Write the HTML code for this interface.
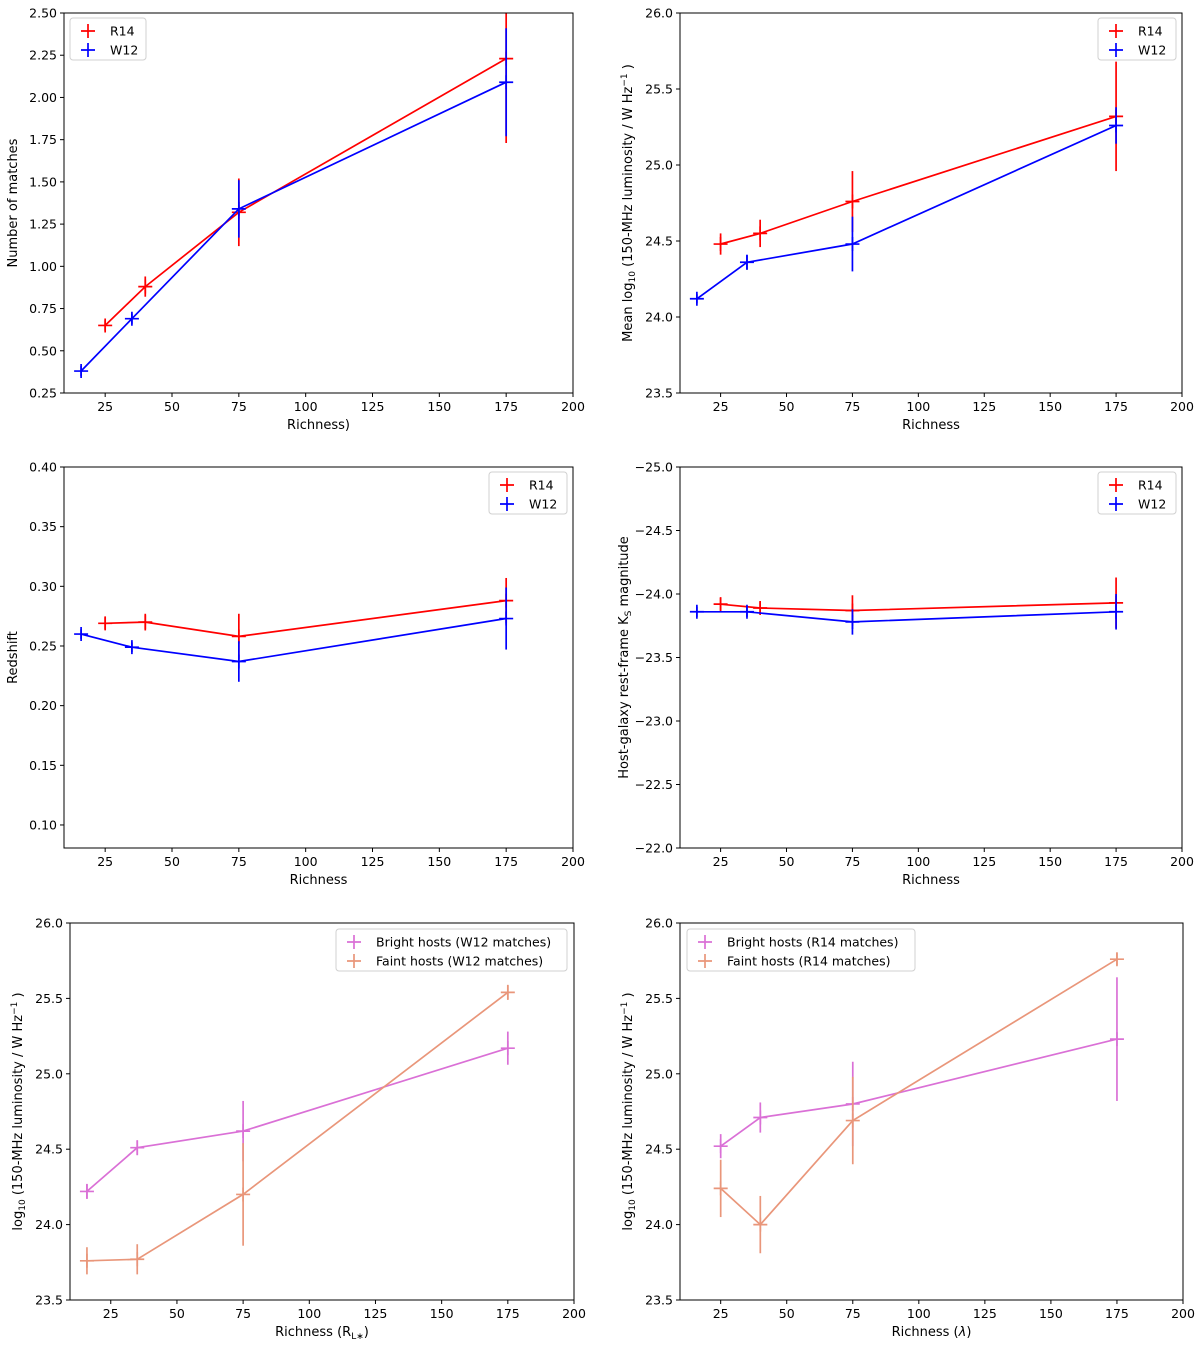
<!DOCTYPE html>
<html><head><meta charset="utf-8"><style>
body{margin:0;background:#fff;}
svg{display:block;font-family:"DejaVu Sans","Liberation Sans",sans-serif;}
</style></head>
<body>
<svg id="fig" width="1200" height="1347" viewBox="0 0 1200 1347" xmlns="http://www.w3.org/2000/svg"></svg>
<script>
// ---- Data ----
const xR14 = [25, 40, 75, 175];
const xW12 = [16, 35, 75, 175];
const p1R14 = [0.65, 0.88, 1.32, 2.23];
const p1R14Err = [0.03, 0.06, 0.2, 0.5];
const p1W12 = [0.38, 0.69, 1.34, 2.09];
const p1W12Err = [0.03, 0.03, 0.17, 0.32];
const p2R14 = [24.48, 24.55, 24.76, 25.32];
const p2R14Err = [0.07, 0.09, 0.2, 0.36];
const p2W12 = [24.12, 24.36, 24.48, 25.26];
const p2W12Err = [0.03, 0.05, 0.18, 0.12];
const p3R14 = [0.269, 0.270, 0.258, 0.288];
const p3R14Err = [0.005, 0.007, 0.019, 0.019];
const p3W12 = [0.260, 0.249, 0.237, 0.273];
const p3W12Err = [0.004, 0.004, 0.017, 0.026];
const p4R14 = [-23.92, -23.89, -23.87, -23.93];
const p4R14Err = [0.05, 0.05, 0.12, 0.2];
const p4W12 = [-23.86, -23.86, -23.78, -23.86];
const p4W12Err = [0.04, 0.04, 0.1, 0.14];
const p5Bright = [24.22, 24.51, 24.62, 25.17];
const p5BrightErr = [0.05, 0.05, 0.2, 0.11];
const p5Faint = [23.76, 23.77, 24.2, 25.54];
const p5FaintErr = [0.09, 0.1, 0.34, 0.05];
const p6Bright = [24.52, 24.71, 24.8, 25.23];
const p6BrightErr = [0.08, 0.1, 0.28, 0.41];
const p6Faint = [24.24, 24.0, 24.69, 25.76];
const p6FaintErr = [0.19, 0.19, 0.29, 0.04];
const xTicks = [25, 50, 75, 100, 125, 150, 175, 200];
const yTicksP1 = [0.25, 0.5, 0.75, 1.0, 1.25, 1.5, 1.75, 2.0, 2.25, 2.5];
const yTicksLum = [23.5, 24.0, 24.5, 25.0, 25.5, 26.0];
const yTicksP3 = [0.10, 0.15, 0.20, 0.25, 0.30, 0.35, 0.40];
const yTicksP4 = [-25.0, -24.5, -24.0, -23.5, -23.0, -22.5, -22.0];

const NS = "http://www.w3.org/2000/svg";
const fig = document.getElementById('fig');
function mk(tag, attrs, parent){
  const e = document.createElementNS(NS, tag);
  for (const k in attrs) e.setAttribute(k, attrs[k]);
  (parent || fig).appendChild(e);
  return e;
}

function panel(cfg){
  const g = mk('g', {});
  
  
  const {x0, x1, y0, y1, ymin, ymax} = cfg;
  const xmin = 9.6, xmax = 200;
  const sx = v => x0 + (v - xmin) / (xmax - xmin) * (x1 - x0);
  const sy = cfg.invert ? (v => y0 + (v - ymin) / (ymax - ymin) * (y1 - y0))
                        : (v => y1 - (v - ymin) / (ymax - ymin) * (y1 - y0));
  const clip = 'clip-' + cfg.name;
  const cp = mk('clipPath', {id: clip}, g);
  mk('rect', {x: x0, y: y0, width: x1 - x0, height: y1 - y0}, cp);
  // x ticks
  xTicks.forEach(t => {
    const X = sx(t);
    const tk = mk('line', {x1: X, x2: X, y1: y1, y2: y1 + 4, stroke: '#000', 'stroke-width': 1}, g);
    
    
    const tl = mk('text', {x: X, y: y1 + 18, 'font-size': 12.5, 'text-anchor': 'middle'}, g);
    tl.textContent = t;
    
    
  });
  cfg.yTicks.forEach(t => {
    const Y = sy(t);
    const tk = mk('line', {x1: x0 - 4, x2: x0, y1: Y, y2: Y, stroke: '#000', 'stroke-width': 1}, g);
    
    
    const tl = mk('text', {x: x0 - 7, y: Y + 4.5, 'font-size': 12.5, 'text-anchor': 'end'}, g);
    tl.textContent = t.toFixed(cfg.dec).replace('-', '\u2212');
    
    
  });
  // series
  const pg = mk('g', {'clip-path': 'url(#' + clip + ')'}, g);
  cfg.series.forEach(s => {
    const sg = mk('g', {}, pg);
    
    
    const pts = s.x.map((xv, i) => sx(xv).toFixed(1) + ',' + sy(s.y[i]).toFixed(1)).join(' ');
    const ln = mk('polyline', {points: pts, fill: 'none', stroke: s.color, 'stroke-width': 1.7}, sg);
    
    
    s.x.forEach((xv, i) => {
      const X = sx(xv), Y = sy(s.y[i]);
      const eb = mk('line', {x1: X, x2: X, y1: sy(s.y[i] - s.e[i]), y2: sy(s.y[i] + s.e[i]), stroke: s.color, 'stroke-width': 1.7}, sg);
      
      
      const mh = mk('path', {d: `M${X - 7},${Y}H${X + 7}M${X},${Y - 7}V${Y + 7}`, stroke: s.color, 'stroke-width': 1.7, fill: 'none'}, sg);
      
      
    });
  });
  const fr = mk('rect', {x: x0, y: y0, width: x1 - x0, height: y1 - y0, fill: 'none', stroke: '#000', 'stroke-width': 1}, g);
  
  
  // x label
  const xl = mk('text', {x: (x0 + x1) / 2, y: y1 + 36, 'font-size': 13, 'text-anchor': 'middle'}, g);
  xl.innerHTML = cfg.xlabel;
  
  
  const yl = mk('text', {x: 0, y: 0, 'font-size': 13, 'text-anchor': 'middle', transform: `translate(${cfg.ylx},${(y0 + y1) / 2}) rotate(-90)`}, g);
  yl.innerHTML = cfg.ylabel;
  
  
  // legend
  const L = cfg.legend;
  const lg = mk('g', {}, g);
  
  
  mk('rect', {x: L.x, y: L.y, width: L.w, height: 42, rx: 3, fill: '#fff', stroke: '#d0d0d0', 'stroke-width': 1}, lg);
  cfg.series.forEach((s, i) => {
    const cy = L.y + 13 + i * 19;
    const cx = L.x + 18;
    const ent = mk('g', {}, lg);
    
    
    mk('path', {d: `M${cx - 7},${cy}H${cx + 7}M${cx},${cy - 7}V${cy + 7}`, stroke: s.color, 'stroke-width': 1.7}, ent);
    const t = mk('text', {x: L.x + 40, y: cy + 4.5, 'font-size': 12.5}, ent);
    t.textContent = s.label;
  });
}

const R = '#ff0000', B = '#0000ff', O = '#da70d6', S = '#e9967a';
const lumLabel = 'log<tspan font-size="9" dy="3">10</tspan><tspan dy="-3"> (150-MHz luminosity / W Hz</tspan><tspan font-size="9" dy="-5">\u22121</tspan><tspan dy="5"> )</tspan>';

panel({name:'panel-matches', x0:64, x1:573, y0:13, y1:393, ymin:0.25, ymax:2.5, yTicks:yTicksP1, dec:2,
  xlabel:'Richness)', ylabel:'Number of matches', ylx:17,
  legend:{x:70, y:18, w:76},
  series:[{key:'r14', label:'R14', color:R, x:xR14, y:p1R14, e:p1R14Err},
          {key:'w12', label:'W12', color:B, x:xW12, y:p1W12, e:p1W12Err}]});
panel({name:'panel-mean-luminosity', x0:680, x1:1182, y0:13, y1:393, ymin:23.5, ymax:26, yTicks:yTicksLum, dec:1,
  xlabel:'Richness', ylabel:'Mean ' + lumLabel, ylx:632,
  legend:{x:1098, y:18, w:78},
  series:[{key:'r14', label:'R14', color:R, x:xR14, y:p2R14, e:p2R14Err},
          {key:'w12', label:'W12', color:B, x:xW12, y:p2W12, e:p2W12Err}]});
panel({name:'panel-redshift', x0:64, x1:573, y0:467, y1:848, ymin:0.0807, ymax:0.40, yTicks:yTicksP3, dec:2,
  xlabel:'Richness', ylabel:'Redshift', ylx:17,
  legend:{x:489, y:472, w:78},
  series:[{key:'r14', label:'R14', color:R, x:xR14, y:p3R14, e:p3R14Err},
          {key:'w12', label:'W12', color:B, x:xW12, y:p3W12, e:p3W12Err}]});
panel({name:'panel-host-magnitude', x0:680, x1:1182, y0:467, y1:848, ymin:-25, ymax:-22, invert:true, yTicks:yTicksP4, dec:1,
  xlabel:'Richness', ylabel:'Host-galaxy rest-frame K<tspan font-size="9" dy="3">S</tspan><tspan dy="-3"> magnitude</tspan>', ylx:628,
  legend:{x:1098, y:472, w:78},
  series:[{key:'r14', label:'R14', color:R, x:xR14, y:p4R14, e:p4R14Err},
          {key:'w12', label:'W12', color:B, x:xW12, y:p4W12, e:p4W12Err}]});
panel({name:'panel-hosts-w12', x0:70, x1:574, y0:923, y1:1300, ymin:23.5, ymax:26, yTicks:yTicksLum, dec:1,
  xlabel:'Richness (R<tspan font-size="9" dy="3">L∗</tspan><tspan dy="-3">)</tspan>', ylabel:lumLabel, ylx:22,
  legend:{x:336, y:929, w:231},
  series:[{key:'bright', label:'Bright hosts (W12 matches)', color:O, x:xW12, y:p5Bright, e:p5BrightErr},
          {key:'faint', label:'Faint hosts (W12 matches)', color:S, x:xW12, y:p5Faint, e:p5FaintErr}]});
panel({name:'panel-hosts-r14', x0:680, x1:1183, y0:923, y1:1300, ymin:23.5, ymax:26, yTicks:yTicksLum, dec:1,
  xlabel:'Richness (<tspan font-style="italic">λ</tspan>)', ylabel:lumLabel, ylx:632,
  legend:{x:687, y:929, w:228},
  series:[{key:'bright', label:'Bright hosts (R14 matches)', color:O, x:xR14, y:p6Bright, e:p6BrightErr},
          {key:'faint', label:'Faint hosts (R14 matches)', color:S, x:xR14, y:p6Faint, e:p6FaintErr}]});
</script>
</body></html>
